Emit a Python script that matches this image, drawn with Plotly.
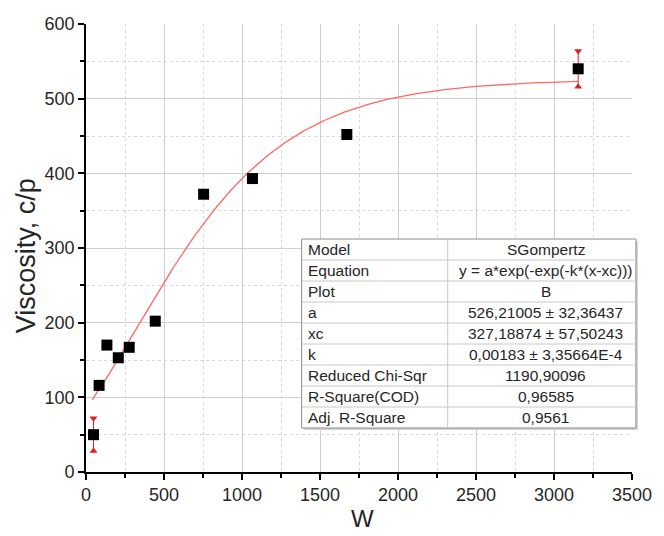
import numpy as np
import plotly.graph_objects as go

# Data
w_vals = [48, 84, 134, 207, 277, 444, 754, 1067, 1672, 3155]
visc_vals = [50, 116, 170, 153, 167, 202, 372, 393, 452, 540]
err_vals = [22, 0, 0, 0, 0, 0, 0, 0, 0, 24]

# Fit parameters (SGompertz) from the table
fit_a = 526.21005
fit_xc = 327.18874
fit_k = 0.00183

table_labels = ["Model", "Equation", "Plot", "a", "xc", "k",
                "Reduced Chi-Sqr", "R-Square(COD)", "Adj. R-Square"]
table_values = ["SGompertz", "y = a*exp(-exp(-k*(x-xc)))", "B",
                "526,21005 ± 32,36437", "327,18874 ± 57,50243",
                "0,00183 ± 3,35664E-4", "1190,90096", "0,96585", "0,9561"]

x_ticks = [0, 500, 1000, 1500, 2000, 2500, 3000, 3500]
y_ticks = [0, 100, 200, 300, 400, 500, 600]

W, H = 664, 536
ML, MR, MT, MB = 86, 21, 24, 64
PW, PH = W - ML - MR, H - MT - MB
FONT = "Liberation Sans, Arial"
TXT = "#262626"

def px(xp):
    return (xp - ML) / PW

def py(yp):
    return 1 - (yp - MT) / PH

fig = go.Figure()

# fitted curve
xf = np.linspace(w_vals[0] - 8, w_vals[-1], 400)
yf = fit_a * np.exp(-np.exp(-fit_k * (xf - fit_xc)))
fig.add_trace(go.Scatter(x=xf, y=yf, mode="lines",
                         line=dict(color="#ff6666", width=1.3),
                         hoverinfo="skip", showlegend=False))

# error bars (red, with triangle ends)
ex, ey_top, ey_bot = [], [], []
for xv, yv, ev in zip(w_vals, visc_vals, err_vals):
    if ev > 0:
        fig.add_trace(go.Scatter(x=[xv, xv], y=[yv - ev, yv + ev], mode="lines",
                                 line=dict(color="#e02020", width=1),
                                 showlegend=False, hoverinfo="skip"))
        ex.append(xv)
        ey_top.append(yv + ev)
        ey_bot.append(yv - ev)
fig.add_trace(go.Scatter(x=ex, y=ey_top, mode="markers",
                         marker=dict(symbol="triangle-down", size=7, color="#e02020"),
                         showlegend=False, hoverinfo="skip"))
fig.add_trace(go.Scatter(x=ex, y=ey_bot, mode="markers",
                         marker=dict(symbol="triangle-up", size=7, color="#e02020"),
                         showlegend=False, hoverinfo="skip"))

# data points
fig.add_trace(go.Scatter(x=w_vals, y=visc_vals, mode="markers",
                         marker=dict(symbol="square", size=11, color="black"),
                         showlegend=False))

# results table
t_left, t_right, t_top = 306, 647, 239
row_h = 21
col_div = 455
n = len(table_labels)
t_bot = t_top + n * row_h
shapes = []
shapes.append(dict(type="rect", xref="paper", yref="paper",
                   x0=px(t_left + 2), x1=px(t_right + 2), y0=py(t_bot + 2), y1=py(t_top + 2),
                   fillcolor="#d4d4d4", line=dict(width=0), layer="above"))
shapes.append(dict(type="rect", xref="paper", yref="paper",
                   x0=px(t_left), x1=px(t_right), y0=py(t_bot), y1=py(t_top),
                   fillcolor="white", line=dict(color="#8c8c8c", width=1), layer="above"))
for i in range(1, n):
    yy = py(t_top + i * row_h)
    shapes.append(dict(type="line", xref="paper", yref="paper",
                       x0=px(t_left), x1=px(t_right), y0=yy, y1=yy,
                       line=dict(color="#c8c8c8", width=1), layer="above"))
shapes.append(dict(type="line", xref="paper", yref="paper",
                   x0=px(col_div), x1=px(col_div), y0=py(t_bot), y1=py(t_top),
                   line=dict(color="#c8c8c8", width=1), layer="above"))

annotations = []
for i, (lab, val) in enumerate(zip(table_labels, table_values)):
    yc = py(t_top + (i + 0.5) * row_h)
    annotations.append(dict(x=px(t_left + 4), y=yc, xref="paper", yref="paper",
                            text=lab, showarrow=False, xanchor="left", yanchor="middle",
                            font=dict(family=FONT, size=15.5, color=TXT)))
    annotations.append(dict(x=px((col_div + t_right) / 2 + 4), y=yc, xref="paper", yref="paper",
                            text=val, showarrow=False, xanchor="center", yanchor="middle",
                            font=dict(family=FONT, size=15.5, color=TXT)))

# axis titles
annotations.append(dict(x=px(25), y=py(256), xref="paper", yref="paper",
                        text="Viscosity, c/p", textangle=-90, showarrow=False,
                        xanchor="center", yanchor="middle",
                        font=dict(family=FONT, size=27, color=TXT)))
annotations.append(dict(x=px(368), y=py(518), xref="paper", yref="paper",
                        text="W", showarrow=False, xanchor="center", yanchor="middle",
                        font=dict(family=FONT, size=24, color=TXT)))

axis_common = dict(
    showline=True, linecolor="black", linewidth=1.6,
    ticks="outside", ticklen=6, tickwidth=1.6, tickcolor="black",
    showgrid=True, gridcolor="#cfcfcf", gridwidth=1.2,
    zeroline=False, mirror=False,
    tickfont=dict(family=FONT, size=18, color=TXT),
)

fig.update_layout(
    width=W, height=H,
    margin=dict(l=ML, r=MR, t=MT, b=MB),
    paper_bgcolor="white", plot_bgcolor="white",
    showlegend=False,
    xaxis=dict(range=[0, 3500], tickvals=x_ticks,
               minor=dict(dtick=250, tick0=0, ticks="outside", ticklen=4, tickcolor="black",
                          showgrid=True, gridcolor="#d8d8d8", griddash="dot", gridwidth=1),
               **axis_common),
    yaxis=dict(range=[0, 600], tickvals=y_ticks,
               minor=dict(dtick=50, tick0=0, ticks="outside", ticklen=4, tickcolor="black",
                          showgrid=True, gridcolor="#d8d8d8", griddash="dot", gridwidth=1),
               **axis_common),
    shapes=shapes,
    annotations=annotations,
)

fig.write_html("out.html")
